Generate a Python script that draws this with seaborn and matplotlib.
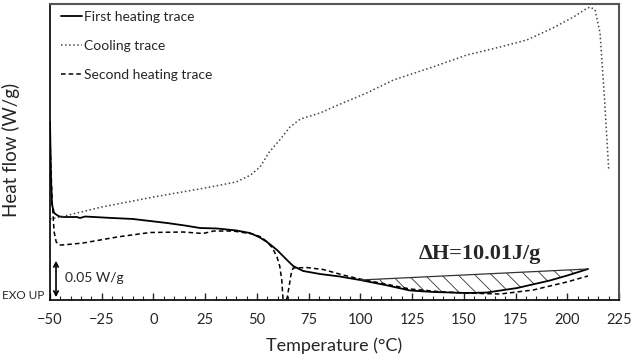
import matplotlib
matplotlib.use("Agg")
import matplotlib.pyplot as plt
import seaborn as sns
import numpy as np

# temperature (°C) and heat flow (W/g, arbitrary offset)
first_T = [-50, -49.5, -49, -48, -46, -44, -37, -35.5, -33, -20, -10, 6.5, 15, 22.5, 30.7, 40,
           46.6, 51, 54.9, 59.7, 64.5, 67.5, 72.3, 80.5, 90, 99.8, 112, 124, 135, 151.5, 161,
           175.7, 191.6, 200, 210]
first_hf = [0.2171, 0.1463, 0.1159, 0.1061, 0.1024, 0.1012, 0.1012, 0.1000, 0.1018, 0.1000,
            0.0988, 0.0939, 0.0909, 0.0878, 0.0872, 0.0848, 0.0817, 0.0768, 0.0707, 0.0610,
            0.0488, 0.0415, 0.0354, 0.0317, 0.0287, 0.0244, 0.0183, 0.0116, 0.0098, 0.0085,
            0.0091, 0.0146, 0.0238, 0.0299, 0.0378]

cool_T = [-50, -45, -25, 0, 25, 40, 47, 51.5, 56, 61, 66, 71, 80.5, 87, 103, 116, 135, 151.5,
          167.5, 180.5, 193, 203, 209, 211, 213.4, 215.8, 218, 220]
cool_hf = [0.0988, 0.1012, 0.1134, 0.1256, 0.1366, 0.1439, 0.1524, 0.1622, 0.1805, 0.1951,
           0.2110, 0.2207, 0.2280, 0.2354, 0.2524, 0.2683, 0.2841, 0.2988, 0.3085, 0.3171,
           0.3317, 0.3451, 0.3549, 0.3573, 0.3537, 0.3256, 0.2439, 0.1585]

second_T = [-50, -49, -48, -47, -45.5, -44, -34, -17.6, -1.7, 14.3, 24, 29, 38.5, 48, 52, 55,
            57.5, 59.7, 61, 62, 62.6, 64.5, 65.5, 66.5, 67.5, 74, 82, 91.6, 99.8, 112, 124,
            140, 151.5, 167.5, 183.5, 199.8, 210]
second_hf = [0.1951, 0.1220, 0.0829, 0.0707, 0.0671, 0.0671, 0.0695, 0.0768, 0.0823, 0.0829,
             0.0811, 0.0841, 0.0841, 0.0805, 0.0768, 0.0707, 0.0634, 0.0524, 0.0415, 0.0244,
             0.0012, 0.0012, 0.0159, 0.0317, 0.0390, 0.0396, 0.0372, 0.0305, 0.0256, 0.0195,
             0.0134, 0.0098, 0.0085, 0.0073, 0.0122, 0.0220, 0.0293]

# integration baseline of the first heating trace
base_T = [100, 210]
base_hf = [0.0244, 0.0378]

x_ticks = [-50, -25, 0, 25, 50, 75, 100, 125, 150, 175, 200, 225]

sns.set_style("white")
plt.rcParams['font.family'] = ['Lato', 'DejaVu Sans']

fig = plt.figure(figsize=(6.33, 3.58), dpi=100)
ax = fig.add_axes([0.079, 0.162, 0.899, 0.827])

sns.lineplot(x=first_T, y=first_hf, ax=ax, color='black', lw=1.3, sort=False,
             label='First heating trace')
sns.lineplot(x=cool_T, y=cool_hf, ax=ax, color='#444444', lw=1.1, sort=False,
             linestyle=':', label='Cooling trace')
sns.lineplot(x=second_T, y=second_hf, ax=ax, color='black', lw=1.1, sort=False,
             linestyle=(0, (3, 2)), label='Second heating trace')

# hatched enthalpy area
ax.plot(base_T, base_hf, color='#333333', lw=0.9)
Tf = np.linspace(103, 210, 200)
curve = np.interp(Tf, first_T, first_hf)
base = np.interp(Tf, base_T, base_hf)
plt.rcParams['hatch.linewidth'] = 0.6
ax.fill_between(Tf, curve, base, facecolor='none', edgecolor='#333333', hatch='\\\\', lw=0)

ax.text(158, 0.056, 'ΔH=10.01J/g', family='Liberation Serif', fontweight='bold',
        fontsize=16, ha='center', va='center')

# scale bar
ax.annotate('', xy=(-47.1, 0.0), xytext=(-47.1, 0.0512),
            arrowprops=dict(arrowstyle='<->', color='black', lw=1.2, mutation_scale=8))
ax.text(-42.7, 0.027, '0.05 W/g', fontsize=10, ha='left', va='center')
ax.text(-52.8, 0.006, 'EXO UP', fontsize=8.5, ha='right', va='center', clip_on=False)

ax.set_xlim(-50, 225)
ax.set_ylim(0, 0.361)
ax.set_xticks(x_ticks)
ax.set_xticks(np.arange(-50, 226, 5), minor=True)
ax.set_yticks([])
ax.tick_params(axis='x', which='major', direction='in', length=5, width=1, pad=9,
               labelsize=10.5, bottom=True)
ax.tick_params(axis='x', which='minor', direction='in', length=3, width=0.8, bottom=True)

ax.set_xlabel('Temperature (°C)', fontsize=13)
ax.set_ylabel('Heat flow (W/g)', fontsize=13.5)
ax.xaxis.set_label_coords(0.5, -0.125)
ax.yaxis.set_label_coords(-0.052, 0.507)

for side in ['left', 'bottom']:
    ax.spines[side].set_color('black')
    ax.spines[side].set_linewidth(1.2)
for side in ['top', 'right']:
    ax.spines[side].set_color('#555555')
    ax.spines[side].set_linewidth(1.5)

ax.legend(loc='upper left', bbox_to_anchor=(0.02, 0.975), frameon=False, fontsize=10,
          handlelength=1.45, handletextpad=0.15, labelspacing=1.2, borderpad=0,
          borderaxespad=0)

fig.savefig('out.png', dpi=100)
